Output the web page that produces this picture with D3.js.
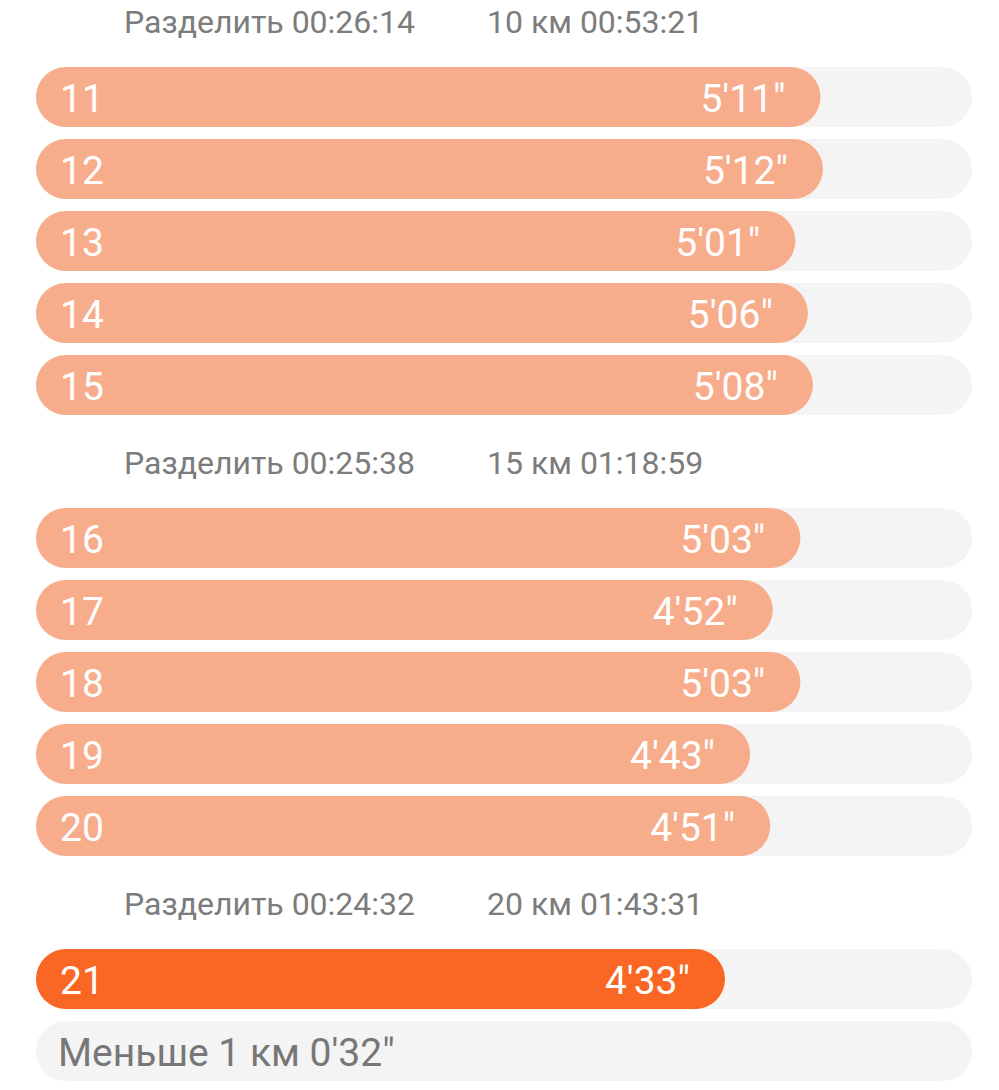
<!DOCTYPE html>
<html>
<head>
<meta charset="utf-8">
<script src="https://cdn.jsdelivr.net/npm/d3@7"></script>
<style>
  body { margin: 0; background: #fff; }
  svg { display: block; font-family: Roboto, "Noto Sans", sans-serif; }
</style>
</head>
<body>
<svg width="999" height="1090"></svg>
<script>
// split data, km by km
var splitKm = ["11", "12", "13", "14", "15", "16", "17", "18", "19", "20", "21"];
var paceSec = [311, 312, 301, 306, 308, 303, 292, 303, 283, 291, 273];
var paceLabels = ["5'11\"", "5'12\"", "5'01\"", "5'06\"", "5'08\"", "5'03\"", "4'52\"", "5'03\"", "4'43\"", "4'51\"", "4'33\""];
var splitLabels = ["Разделить 00:26:14", "Разделить 00:25:38", "Разделить 00:24:32"];
var totalLabels = ["10 км 00:53:21", "15 км 01:18:59", "20 км 01:43:31"];
var groupSize = [5, 5, 1];
var remainderLabel = "Меньше 1 км 0'32\"";

var svg = d3.select("svg");

var trackLeft = 36;
var trackRight = 972;
var barHeight = 60;
var barPitch = 72;
var headerSlot = 81;

var x = d3.scaleLinear()
    .domain([0, 371.3])
    .range([39, trackRight]);

var fastest = d3.min(paceSec);

// build the row layout: header, then bars of that group
var rows = [];
var y = -14;
var k = 0;
for (var g = 0; g < groupSize.length; g++)
{
    rows.push({type: "header", y: y, split: splitLabels[g], total: totalLabels[g]});
    y += headerSlot;
    for (var j = 0; j < groupSize[g]; j++)
    {
        rows.push({type: "bar", y: y, km: splitKm[k], sec: paceSec[k], label: paceLabels[k]});
        y += barPitch;
        k++;
    }
}
rows.push({type: "rest", y: y, label: remainderLabel});

// headers
var headers = svg.selectAll("g.header")
    .data(rows.filter(function(d){ return d.type == "header"; }))
    .enter()
    .append("g")
    .attr("class", "header")
    .attr("transform", function(d){ return "translate(0," + (d.y + 35) + ")"; });

headers.append("text")
    .attr("x", 124)
    .attr("dy", "0.36em")
    .style("font-size", "32px")
    .style("fill", "#7c7c7c")
    .text(function(d){ return d.split; });

headers.append("text")
    .attr("x", 487)
    .attr("dy", "0.36em")
    .style("font-size", "32px")
    .style("fill", "#7c7c7c")
    .text(function(d){ return d.total; });

// bars
var bars = svg.selectAll("g.bar")
    .data(rows.filter(function(d){ return d.type == "bar"; }))
    .enter()
    .append("g")
    .attr("class", "bar")
    .attr("transform", function(d){ return "translate(0," + d.y + ")"; });

bars.append("rect")
    .attr("x", trackLeft)
    .attr("width", trackRight - trackLeft)
    .attr("height", barHeight)
    .attr("rx", barHeight / 2)
    .style("fill", "#f4f4f4");

bars.append("rect")
    .attr("x", trackLeft)
    .attr("width", function(d){ return x(d.sec) - trackLeft; })
    .attr("height", barHeight)
    .attr("rx", barHeight / 2)
    .style("fill", function(d){ return d.sec == fastest ? "#fa6623" : "#f7ad8b"; });

bars.append("text")
    .attr("x", 60)
    .attr("y", barHeight / 2 + 15)
    .style("font-size", "39px")
    .style("fill", "#fff")
    .text(function(d){ return d.km; });

bars.append("text")
    .attr("x", function(d){ return x(d.sec) - 35; })
    .attr("y", barHeight / 2 + 15)
    .style("font-size", "39px")
    .style("fill", "#fff")
    .style("text-anchor", "end")
    .text(function(d){ return d.label; });

// remainder row
var rest = svg.selectAll("g.rest")
    .data(rows.filter(function(d){ return d.type == "rest"; }))
    .enter()
    .append("g")
    .attr("class", "rest")
    .attr("transform", function(d){ return "translate(0," + d.y + ")"; });

rest.append("rect")
    .attr("x", trackLeft)
    .attr("width", trackRight - trackLeft)
    .attr("height", barHeight)
    .attr("rx", barHeight / 2)
    .style("fill", "#f4f4f4");

rest.append("text")
    .attr("x", 58)
    .attr("y", barHeight / 2 + 15)
    .style("font-size", "39px")
    .style("fill", "#777")
    .text(function(d){ return d.label; });
</script>
</body>
</html>
